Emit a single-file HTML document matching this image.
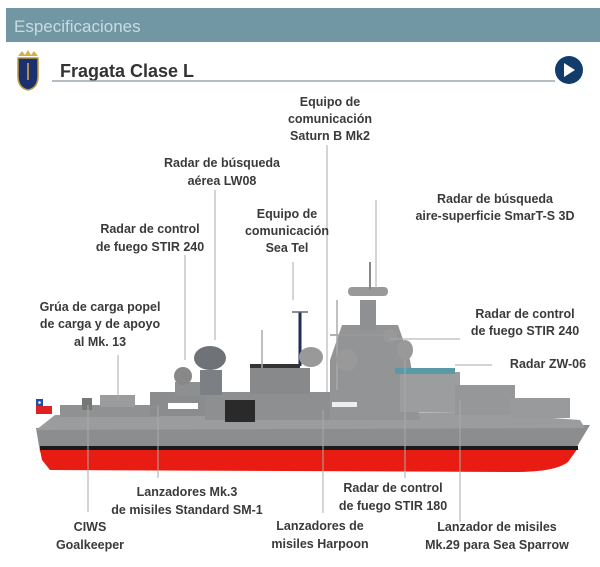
<!DOCTYPE html>
<html><head><meta charset="utf-8"><style>
html,body{margin:0;padding:0;background:#fff;width:600px;height:567px;overflow:hidden}
svg{display:block}
text{font-family:"Liberation Sans",sans-serif;font-weight:bold;font-size:12.5px;fill:#3a3a3a}
</style></head><body>
<svg width="600" height="567" viewBox="0 0 600 567">
<rect x="6" y="8" width="594" height="34" fill="#7197a4"/>
<text x="14" y="32" style="font-weight:normal;font-size:17px;fill:#c9dbe2">Especificaciones</text>
<path d="M18 58 h20 v18 q0 12 -10 14 q-10 -2 -10 -14z" fill="#1c2f6e" stroke="#b89a3a" stroke-width="1.5"/>
<path d="M18 56 l4 -5 l3 4 l3 -5 l3 5 l3 -4 l4 5z" fill="#d4b04a"/>
<line x1="28" y1="63" x2="28" y2="80" stroke="#d4b04a" stroke-width="1.5"/>
<text x="60" y="77" style="font-size:18px;fill:#333">Fragata Clase L</text>
<line x1="52" y1="81" x2="555" y2="81" stroke="#9aa7ad" stroke-width="1.5"/>
<circle cx="569" cy="70" r="14" fill="#123c6a"/>
<path d="M564 63 l11 7 l-11 7z" fill="#fff"/>
<!-- ship -->
<path d="M36 428 L590 425 L575 450 L40 452 Z" fill="#8b8d8f"/>
<path d="M40 450 L578 448 L568 462 Q555 472 515 472 L50 470 L42 460 Z" fill="#e81c12"/>
<rect x="40" y="446" width="538" height="4" fill="#1a1a1a"/>
<path d="M55 415 L470 412 L580 420 L585 428 L36 430 Z" fill="#9a9c9e"/>
<rect x="60" y="405" width="100" height="12" fill="#8f9193"/>
<rect x="100" y="395" width="35" height="12" fill="#9a9c9e"/>
<rect x="150" y="392" width="60" height="24" fill="#8a8c8e"/>
<rect x="175" y="382" width="35" height="14" fill="#8d8f91"/>
<rect x="205" y="392" width="140" height="28" fill="#8d8f91"/>
<rect x="250" y="368" width="60" height="26" fill="#87898b"/>
<rect x="250" y="364" width="50" height="4" fill="#333"/>
<rect x="225" y="400" width="30" height="22" fill="#2a2a2a"/>
<path d="M330 360 L342 325 L398 325 L410 360 L420 420 L330 420Z" fill="#929496"/>
<rect x="360" y="300" width="16" height="30" fill="#8e9092"/>
<rect x="348" y="287" width="40" height="9" rx="4" fill="#999"/>
<line x1="370" y1="262" x2="370" y2="290" stroke="#888" stroke-width="2"/>
<line x1="330" y1="335" x2="395" y2="335" stroke="#999" stroke-width="1.5"/>
<rect x="400" y="372" width="60" height="40" fill="#9b9d9f"/>
<rect x="395" y="368" width="60" height="6" fill="#5a9aa8"/>
<rect x="455" y="385" width="60" height="30" fill="#959799"/>
<rect x="510" y="398" width="60" height="20" fill="#989a9c"/>
<line x1="300" y1="312" x2="300" y2="366" stroke="#1f2e55" stroke-width="3"/>
<line x1="292" y1="312" x2="308" y2="312" stroke="#667" stroke-width="1.5"/>
<line x1="262" y1="330" x2="262" y2="368" stroke="#aaa" stroke-width="1.5"/>
<line x1="337" y1="300" x2="337" y2="390" stroke="#aaa" stroke-width="1.5"/>
<ellipse cx="210" cy="358" rx="16" ry="12" fill="#6f7378"/>
<rect x="200" y="370" width="22" height="25" fill="#7c7f83"/>
<ellipse cx="183" cy="376" rx="9" ry="9" fill="#888"/>
<ellipse cx="311" cy="357" rx="12" ry="10" fill="#999"/>
<ellipse cx="347" cy="360" rx="11" ry="11" fill="#999"/>
<ellipse cx="405" cy="350" rx="8" ry="10" fill="#999"/>
<ellipse cx="390" cy="336" rx="7" ry="7" fill="#999"/>
<rect x="168" y="403" width="30" height="6" fill="#fff"/>
<rect x="332" y="402" width="25" height="5" fill="#eee"/>
<rect x="82" y="398" width="10" height="12" fill="#777"/>
<rect x="36" y="406" width="16" height="8" fill="#d22"/>
<rect x="36" y="399" width="16" height="7" fill="#fff"/>
<rect x="36" y="399" width="7" height="7" fill="#1d4fa8"/>
<circle cx="39.5" cy="402.5" r="1.3" fill="#fff"/>
<g stroke="#aaa" stroke-width="1" fill="none">
<line x1="327" y1="145" x2="327" y2="392"/>
<line x1="215" y1="190" x2="215" y2="340"/>
<line x1="293" y1="262" x2="293" y2="300"/>
<line x1="185" y1="255" x2="185" y2="360"/>
<line x1="376" y1="200" x2="376" y2="288"/>
<line x1="118" y1="355" x2="118" y2="400"/>
<line x1="390" y1="339" x2="460" y2="339"/>
<line x1="455" y1="365" x2="492" y2="365"/>
<line x1="88" y1="405" x2="88" y2="512"/>
<line x1="158" y1="405" x2="158" y2="478"/>
<line x1="323" y1="410" x2="323" y2="513"/>
<line x1="405" y1="360" x2="405" y2="478"/>
<line x1="460" y1="400" x2="460" y2="522"/>
</g>
<!-- labels -->
<g text-anchor="middle">
<text x="330" y="106">Equipo de</text><text x="330" y="123">comunicación</text><text x="330" y="140">Saturn B Mk2</text>
<text x="222" y="167">Radar de búsqueda</text><text x="222" y="185">aérea LW08</text>
<text x="287" y="218">Equipo de</text><text x="287" y="235">comunicación</text><text x="287" y="252">Sea Tel</text>
<text x="150" y="233">Radar de control</text><text x="150" y="251">de fuego STIR 240</text>
<text x="495" y="203">Radar de búsqueda</text><text x="495" y="220">aire-superficie SmarT-S 3D</text>
<text x="100" y="311">Grúa de carga popel</text><text x="100" y="328">de carga y de apoyo</text><text x="100" y="346">al Mk. 13</text>
<text x="525" y="318">Radar de control</text><text x="525" y="335">de fuego STIR 240</text>
<text x="548" y="368">Radar ZW-06</text>
<text x="187" y="496">Lanzadores Mk.3</text><text x="187" y="514">de misiles Standard SM-1</text>
<text x="393" y="492">Radar de control</text><text x="393" y="510">de fuego STIR 180</text>
<text x="90" y="531">CIWS</text><text x="90" y="549">Goalkeeper</text>
<text x="320" y="530">Lanzadores de</text><text x="320" y="548">misiles Harpoon</text>
<text x="497" y="531">Lanzador de misiles</text><text x="497" y="549">Mk.29  para Sea Sparrow</text>
</g>
</svg>
</body></html>
